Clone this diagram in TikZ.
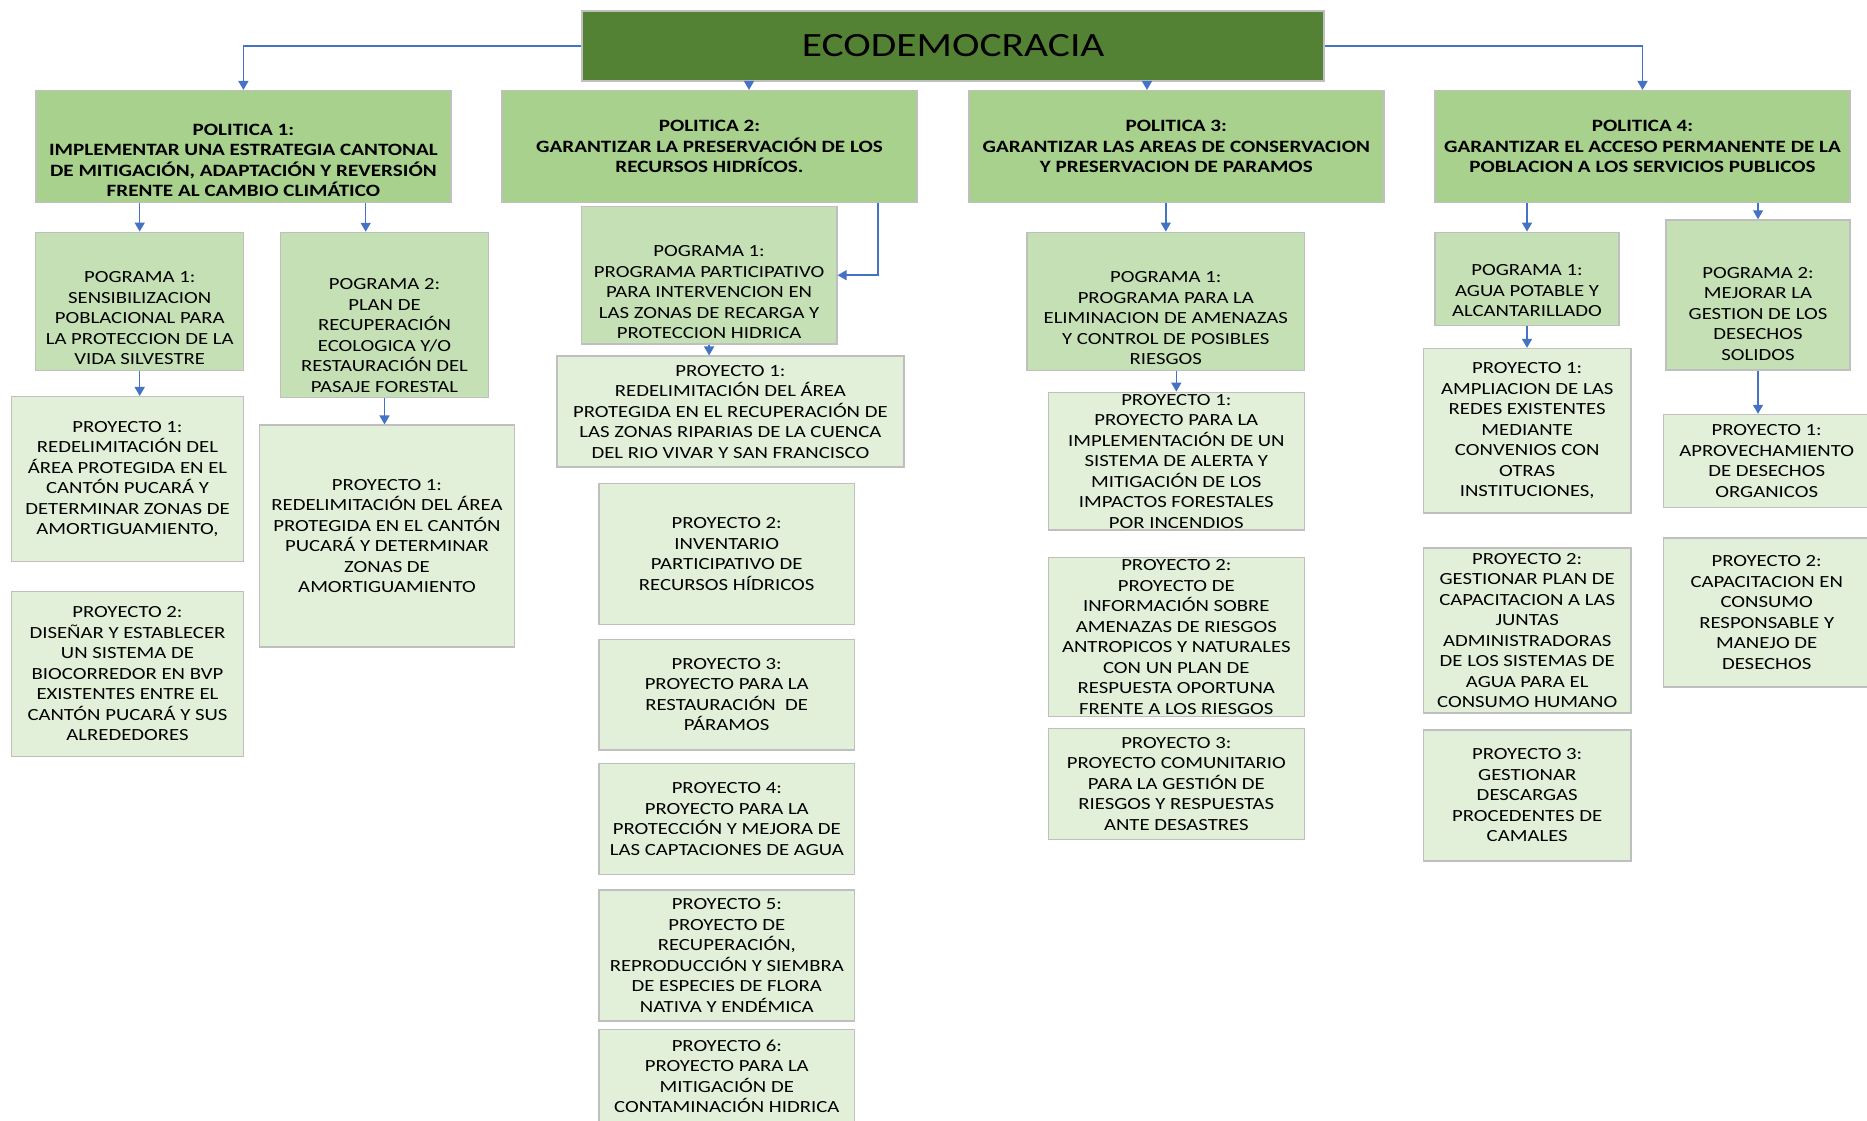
\documentclass[tikz,border=0pt]{standalone}
\usepackage{fontspec}
\setmainfont{Carlito}[FakeStretch=1.22]
\usetikzlibrary{positioning,arrows.meta}
\definecolor{rootgreen}{HTML}{548235}
\definecolor{polgreen}{HTML}{A9D18E}
\definecolor{prggreen}{HTML}{C5E0B4}
\definecolor{prygreen}{HTML}{E2F0D9}
\definecolor{boxline}{HTML}{BFBFBF}
\definecolor{connblue}{HTML}{4472C4}
\newcommand{\tdrop}[1]{\rule{0pt}{#1pt}}

\begin{document}
\begin{tikzpicture}[x=1pt,y=-1pt]
	\tikzstyle{box}=[draw=boxline, line width=1.5pt, shape=rectangle, align=center, inner sep=2pt, font=\fontsize{17}{20.5}\selectfont]
	\tikzstyle{rootnode}=[box, fill=rootgreen, font=\fontsize{34}{40}\selectfont]
	\tikzstyle{polnode}=[box, fill=polgreen, font=\fontsize{17.3}{20.5}\selectfont\bfseries, minimum width=415pt, minimum height=112pt]
	\tikzstyle{prgnode}=[box, fill=prggreen]
	\tikzstyle{prynode}=[box, fill=prygreen]
	\tikzstyle{conn}=[draw=connblue, line width=1.5pt, -{Triangle[width=10pt,length=9pt]}]

	\useasboundingbox (0,0) rectangle (1867,1120);

	\node[rootnode, minimum width=742pt, minimum height=70pt] (root) at (953.2,45.9) {ECODEMOCRACIA};

	% politicas
	\node[polnode] (pol1) at (243.4,146.7) {\tdrop{38.7}POLITICA 1:\\IMPLEMENTAR UNA ESTRATEGIA CANTONAL\\DE MITIGACIÓN, ADAPTACIÓN Y REVERSIÓN\\FRENTE AL CAMBIO CLIMÁTICO};
	\node[polnode] (pol2) at (709.5,146.7) {POLITICA 2:\\GARANTIZAR LA PRESERVACIÓN DE LOS\\RECURSOS HIDRÍCOS.};
	\node[polnode] (pol3) at (1176.3,146.7) {POLITICA 3:\\GARANTIZAR LAS AREAS DE CONSERVACION\\Y PRESERVACION DE PARAMOS};
	\node[polnode] (pol4) at (1642.5,146.7) {POLITICA 4:\\GARANTIZAR EL ACCESO PERMANENTE DE LA\\POBLACION A LOS SERVICIOS PUBLICOS};

	% politica 1
	\node[prgnode, minimum width=208pt, minimum height=138pt] (pg11) at (139.7,301.3) {\tdrop{44.7}POGRAMA 1:\\SENSIBILIZACION\\POBLACIONAL PARA\\LA PROTECCION DE LA\\VIDA SILVESTRE};
	\node[prgnode, minimum width=208pt, minimum height=165pt] (pg12) at (384.5,315) {\tdrop{51.7}POGRAMA 2:\\PLAN DE\\RECUPERACIÓN\\ECOLOGICA Y/O\\RESTAURACIÓN DEL\\PASAJE FORESTAL};
	\node[prynode, minimum width=232pt, minimum height=165pt] (py11) at (127.5,479.2) {PROYECTO 1:\\REDELIMITACIÓN DEL\\ÁREA PROTEGIDA EN EL\\CANTÓN PUCARÁ Y\\DETERMINAR ZONAS DE\\AMORTIGUAMIENTO,};
	\node[prynode, minimum width=232pt, minimum height=165pt] (py12) at (127.5,674) {PROYECTO 2:\\DISEÑAR Y ESTABLECER\\UN SISTEMA DE\\BIOCORREDOR EN BVP\\EXISTENTES ENTRE EL\\CANTÓN PUCARÁ Y SUS\\ALREDEDORES};
	\node[prynode, minimum width=255pt, minimum height=222pt] (py121) at (387,536.2) {PROYECTO 1:\\REDELIMITACIÓN DEL ÁREA\\PROTEGIDA EN EL CANTÓN\\PUCARÁ Y DETERMINAR\\ZONAS DE\\AMORTIGUAMIENTO};

	% politica 2
	\node[prgnode, minimum width=255.5pt, minimum height=137.7pt] (pg21) at (709.1,275.2) {\tdrop{44.7}POGRAMA 1:\\PROGRAMA PARTICIPATIVO\\PARA INTERVENCION EN\\LAS ZONAS DE RECARGA Y\\PROTECCION HIDRICA};
	\node[prynode, minimum width=347pt, minimum height=111pt] (py21) at (730.4,411.7) {PROYECTO 1:\\REDELIMITACIÓN DEL ÁREA\\PROTEGIDA EN EL RECUPERACIÓN DE\\LAS ZONAS RIPARIAS DE LA CUENCA\\DEL RIO VIVAR Y SAN FRANCISCO};
	\node[prynode, minimum width=255.5pt, minimum height=141pt] (py22) at (726.7,553.8) {PROYECTO 2:\\INVENTARIO\\PARTICIPATIVO DE\\RECURSOS HÍDRICOS};
	\node[prynode, minimum width=255.5pt, minimum height=110.7pt] (py23) at (726.7,694.7) {PROYECTO 3:\\PROYECTO PARA LA\\RESTAURACIÓN\ \ DE\\PÁRAMOS};
	\node[prynode, minimum width=255.5pt, minimum height=111pt] (py24) at (726.8,818.8) {PROYECTO 4:\\PROYECTO PARA LA\\PROTECCIÓN Y MEJORA DE\\LAS CAPTACIONES DE AGUA};
	\node[prynode, minimum width=255.5pt, minimum height=131pt] (py25) at (726.8,955.5) {PROYECTO 5:\\PROYECTO DE\\RECUPERACIÓN,\\REPRODUCCIÓN Y SIEMBRA\\DE ESPECIES DE FLORA\\NATIVA Y ENDÉMICA};
	\node[prynode, minimum width=255.5pt, minimum height=93.7pt] (py26) at (726.8,1076.2) {PROYECTO 6:\\PROYECTO PARA LA\\MITIGACIÓN DE\\CONTAMINACIÓN HIDRICA};

	% politica 3
	\node[prgnode, minimum width=277.6pt, minimum height=138pt] (pg31) at (1165.8,301.3) {\tdrop{44.7}POGRAMA 1:\\PROGRAMA PARA LA\\ELIMINACION DE AMENAZAS\\Y CONTROL DE POSIBLES\\RIESGOS};
	\node[prynode, minimum width=256pt, minimum height=137.7pt, inner sep=0pt] (py31) at (1176.3,461.2) {PROYECTO 1:\\PROYECTO PARA LA\\IMPLEMENTACIÓN DE UN\\SISTEMA DE ALERTA Y\\MITIGACIÓN DE LOS\\IMPACTOS FORESTALES\\POR INCENDIOS};
	\node[prynode, minimum width=256pt, minimum height=159pt, inner sep=0pt] (py32) at (1176.3,637.2) {PROYECTO 2:\\PROYECTO DE\\INFORMACIÓN SOBRE\\AMENAZAS DE RIESGOS\\ANTROPICOS Y NATURALES\\CON UN PLAN DE\\RESPUESTA OPORTUNA\\FRENTE A LOS RIESGOS};
	\node[prynode, minimum width=256pt, minimum height=111pt] (py33) at (1176.3,783.8) {PROYECTO 3:\\PROYECTO COMUNITARIO\\PARA LA GESTIÓN DE\\RIESGOS Y RESPUESTAS\\ANTE DESASTRES};

	% politica 4
	\node[prgnode, minimum width=184pt, minimum height=93.4pt] (pg41) at (1527,279) {\tdrop{34.7}POGRAMA 1:\\AGUA POTABLE Y\\ALCANTARILLADO};
	\node[prgnode, minimum width=184pt, minimum height=150pt] (pg42) at (1758,295) {\tdrop{48.7}POGRAMA 2:\\MEJORAR LA\\GESTION DE LOS\\DESECHOS\\SOLIDOS};
	\node[prynode, minimum width=207.7pt, minimum height=164.6pt] (py41) at (1527.2,430.9) {PROYECTO 1:\\AMPLIACION DE LAS\\REDES EXISTENTES\\MEDIANTE\\CONVENIOS CON\\OTRAS\\INSTITUCIONES,};
	\node[prynode, minimum width=207.7pt, minimum height=165pt, inner sep=0pt] (py42) at (1527.2,630.4) {PROYECTO 2:\\GESTIONAR PLAN DE\\CAPACITACION A LAS\\JUNTAS\\ADMINISTRADORAS\\DE LOS SISTEMAS DE\\AGUA PARA EL\\CONSUMO HUMANO};
	\node[prynode, minimum width=207.7pt, minimum height=131pt] (py43) at (1527.2,795.5) {PROYECTO 3:\\GESTIONAR\\DESCARGAS\\PROCEDENTES DE\\CAMALES};
	\node[prynode, minimum width=206.7pt, minimum height=92.9pt] (py421) at (1766.7,461) {PROYECTO 1:\\APROVECHAMIENTO\\DE DESECHOS\\ORGANICOS};
	\node[prynode, minimum width=206.7pt, minimum height=149.2pt] (py422) at (1766.7,612.5) {PROYECTO 2:\\CAPACITACION EN\\CONSUMO\\RESPONSABLE Y\\MANEJO DE\\DESECHOS};

	\draw[conn] (root.west) -| (pol1.north);
	\draw[conn] (root.east) -| (pol4.north);
	\draw[conn] ([xshift=39.5pt]pol2.north |- root.south) -- ([xshift=39.5pt]pol2.north);
	\draw[conn] ([xshift=-29.3pt]pol3.north |- root.south) -- ([xshift=-29.3pt]pol3.north);

	\draw[conn] (pg11.north |- pol1.south) -- (pg11.north);
	\draw[conn] ([xshift=-18.8pt]pg12.north |- pol1.south) -- ([xshift=-18.8pt]pg12.north);
	\draw[conn] (pg11.south) -- (pg11.south |- py11.north);
	\draw[conn] (pg12.south) -- (pg12.south |- py121.north);

	\draw[conn] ([xshift=-39.7pt]pol2.south east) |- (pg21.east);
	\draw[conn] (pg21.south) -- (pg21.south |- py21.north);

	\draw[conn] (pg31.north |- pol3.south) -- (pg31.north);
	\draw[conn] (py31.north |- pg31.south) -- (py31.north);

	\draw[conn] (pg41.north |- pol4.south) -- (pg41.north);
	\draw[conn] (pg42.north |- pol4.south) -- (pg42.north);
	\draw[conn] (pg41.south) -- (pg41.south |- py41.north);
	\draw[conn] (pg42.south) -- (pg42.south |- py421.north);

\end{tikzpicture}
\end{document}
